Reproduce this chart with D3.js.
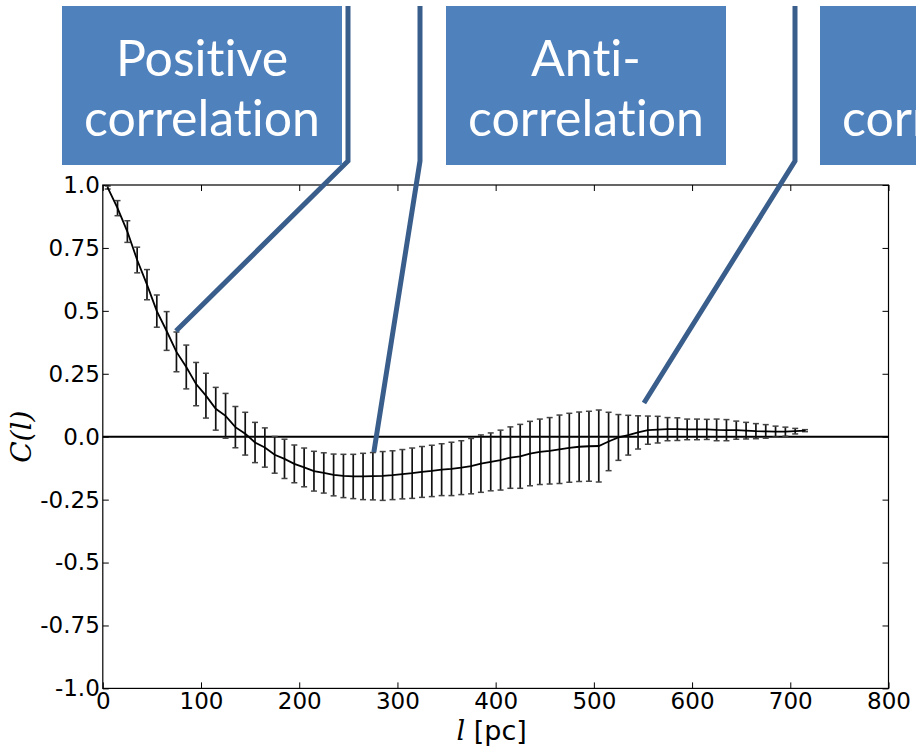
<!DOCTYPE html>
<html>
<head>
<meta charset="utf-8">
<script src="https://cdn.jsdelivr.net/npm/d3@7"></script>
<style>
  html, body { margin: 0; padding: 0; background: #fff; }
  svg { display: block; }
  .tick text { font-family: "DejaVu Sans", sans-serif; font-size: 23px; fill: #000; }
  .callout-text { font-variant-ligatures: none; font-feature-settings: "liga" 0, "clig" 0; }
</style>
</head>
<body>
<svg id="chart" width="916" height="748"></svg>
<script>
// Separation of the correlation function, in parsecs
const lagPc = [5, 15, 25, 35, 45, 55, 65, 75, 85, 95,
  105, 115, 125, 135, 145, 155, 165, 175, 185, 195,
  205, 215, 225, 235, 245, 255, 265, 275, 285, 295,
  305, 315, 325, 335, 345, 355, 365, 375, 385, 395,
  405, 415, 425, 435, 445, 455, 465, 475, 485, 495,
  505, 515, 525, 535, 545, 555, 565, 575, 585, 595,
  605, 615, 625, 635, 645, 655, 665, 675, 685, 695,
  705, 715];

// Correlation C(l)
const corr = [0.99, 0.908, 0.815, 0.702, 0.604, 0.499, 0.420, 0.337, 0.277, 0.209,
  0.163, 0.111, 0.083, 0.038, 0.012, -0.023, -0.043, -0.072, -0.088, -0.108,
  -0.122, -0.137, -0.144, -0.152, -0.156, -0.158, -0.158, -0.157, -0.156, -0.153,
  -0.149, -0.145, -0.140, -0.136, -0.131, -0.128, -0.123, -0.117, -0.107, -0.100,
  -0.093, -0.083, -0.078, -0.067, -0.060, -0.056, -0.050, -0.044, -0.040, -0.038,
  -0.037, -0.019, -0.003, 0.006, 0.017, 0.026, 0.028, 0.030, 0.030, 0.029,
  0.029, 0.029, 0.027, 0.026, 0.026, 0.024, 0.022, 0.021, 0.020, 0.020,
  0.022, 0.024];

// One-sigma uncertainty of C(l)
const corrErr = [0.006, 0.030, 0.043, 0.051, 0.060, 0.064, 0.077, 0.079, 0.087, 0.086,
  0.089, 0.085, 0.089, 0.082, 0.085, 0.080, 0.078, 0.073, 0.078, 0.075,
  0.077, 0.079, 0.080, 0.083, 0.086, 0.088, 0.092, 0.094, 0.097, 0.097,
  0.098, 0.100, 0.101, 0.102, 0.103, 0.106, 0.107, 0.110, 0.114, 0.115,
  0.119, 0.122, 0.127, 0.128, 0.130, 0.132, 0.136, 0.137, 0.138, 0.139,
  0.143, 0.116, 0.091, 0.079, 0.066, 0.056, 0.053, 0.046, 0.045, 0.041,
  0.041, 0.040, 0.043, 0.042, 0.036, 0.033, 0.030, 0.027, 0.022, 0.018,
  0.011, 0.004];

const xTicks = [0, 100, 200, 300, 400, 500, 600, 700, 800];
const yTicks = [1.0, 0.75, 0.5, 0.25, 0.0, -0.25, -0.5, -0.75, -1.0];
const yTickLabels = ["1.0", "0.75", "0.5", "0.25", "0.0", "-0.25", "-0.5", "-0.75", "-1.0"];

// Callout boxes: text lines and the point (l, C) each one refers to
const calloutLines = [["Positive", "correlation"], ["Anti-", "correlation"], ["No", "correlation"]];
const calloutTipL = [74.5, 276, 551];
const calloutTipC = [0.42, -0.061, 0.134];

const svg = d3.select("#chart");
const plot = { left: 102.8, right: 888.5, top: 185, bottom: 688.4 };

const x = d3.scaleLinear().domain([0, 800]).range([plot.left, plot.right]);
const y = d3.scaleLinear().domain([-1, 1]).range([plot.bottom, plot.top]);

const data = lagPc.map((l, i) => ({ l, c: corr[i], e: corrErr[i] }));

// Axes with inward ticks on all four sides
svg.append("g").attr("transform", `translate(0,${plot.bottom})`)
  .call(d3.axisBottom(x).tickValues(xTicks).tickFormat(d3.format("d"))
    .tickSizeInner(-6).tickSizeOuter(0).tickPadding(4));
svg.append("g").attr("transform", `translate(${plot.left},0)`)
  .call(d3.axisLeft(y).tickValues(yTicks).tickFormat((d, i) => yTickLabels[i])
    .tickSizeInner(-6).tickSizeOuter(0).tickPadding(3));
svg.append("g").attr("transform", `translate(0,${plot.top})`)
  .call(d3.axisTop(x).tickValues(xTicks).tickFormat("").tickSizeInner(-6).tickSizeOuter(0));
svg.append("g").attr("transform", `translate(${plot.right},0)`)
  .call(d3.axisRight(y).tickValues(yTicks).tickFormat("").tickSizeInner(-6).tickSizeOuter(0));
svg.selectAll(".domain").remove();
svg.selectAll(".tick line").attr("stroke", "#000").attr("stroke-width", 1);

// Zero line
svg.append("line")
  .attr("x1", x(0)).attr("x2", x(800)).attr("y1", y(0)).attr("y2", y(0))
  .attr("stroke", "#000").attr("stroke-width", 2);

// Error bars
const eb = svg.append("g").attr("stroke", "#111").attr("stroke-width", 1.7);
eb.selectAll("line.v").data(data).join("line").attr("class", "v")
  .attr("x1", d => x(d.l)).attr("x2", d => x(d.l))
  .attr("y1", d => y(d.c + d.e)).attr("y2", d => y(d.c - d.e));
eb.selectAll("line.ct").data(data).join("line").attr("class", "ct")
  .attr("x1", d => x(d.l) - 3).attr("x2", d => x(d.l) + 3)
  .attr("y1", d => y(d.c + d.e)).attr("y2", d => y(d.c + d.e))
  .attr("stroke", "#444").attr("stroke-width", 1.5);
eb.selectAll("line.cb").data(data).join("line").attr("class", "cb")
  .attr("x1", d => x(d.l) - 3).attr("x2", d => x(d.l) + 3)
  .attr("y1", d => y(d.c - d.e)).attr("y2", d => y(d.c - d.e))
  .attr("stroke", "#444").attr("stroke-width", 1.5);

// Correlation curve
svg.append("path").datum(data)
  .attr("fill", "none").attr("stroke", "#000").attr("stroke-width", 1.8)
  .attr("d", d3.line().x(d => x(d.l)).y(d => y(d.c)));

// Frame
svg.append("rect")
  .attr("x", plot.left).attr("y", plot.top)
  .attr("width", plot.right - plot.left).attr("height", plot.bottom - plot.top)
  .attr("fill", "none").attr("stroke", "#000").attr("stroke-width", 1.2);

// Axis titles
svg.append("text")
  .attr("transform", `translate(31,${y(0)}) rotate(-90)`)
  .attr("text-anchor", "middle")
  .attr("font-family", "DejaVu Serif, serif").attr("font-style", "italic")
  .attr("font-size", 28).text("C(l)");
const xt = svg.append("text")
  .attr("x", (plot.left + plot.right) / 2 - 4).attr("y", 740)
  .attr("text-anchor", "middle")
  .attr("font-family", "DejaVu Sans, sans-serif").attr("font-size", 27);
xt.append("tspan").attr("font-family", "DejaVu Serif, serif").attr("font-style", "italic").text("l");
xt.append("tspan").text(" [pc]");

// Callouts: box, vertical leader and pointer to the curve
const boxLeft = [62, 446, 820];
const leaderX = [348, 420, 795];
const box = { top: 6, height: 159, width: 280 };

const callouts = svg.append("g");
calloutLines.forEach((lines, i) => {
  callouts.append("polyline")
    .attr("points", [[leaderX[i], box.top], [leaderX[i], 161],
      [x(calloutTipL[i]), y(calloutTipC[i])]].map(p => p.join(",")).join(" "))
    .attr("fill", "none").attr("stroke", "#3A5E8C").attr("stroke-width", 5)
    .attr("stroke-linejoin", "miter");
});
calloutLines.forEach((lines, i) => {
  const g = callouts.append("g");
  g.append("rect")
    .attr("x", boxLeft[i]).attr("y", box.top)
    .attr("width", box.width).attr("height", box.height)
    .attr("fill", "#4F81BD");
  lines.forEach((t, j) => {
    g.append("text").attr("class", "callout-text")
      .attr("x", boxLeft[i] + box.width / 2).attr("y", 76 + j * 60)
      .attr("text-anchor", "middle")
      .attr("font-family", "Lato, sans-serif").attr("font-size", 50)
      .attr("fill", "#fff").text(t);
  });
});
</script>
</body>
</html>
